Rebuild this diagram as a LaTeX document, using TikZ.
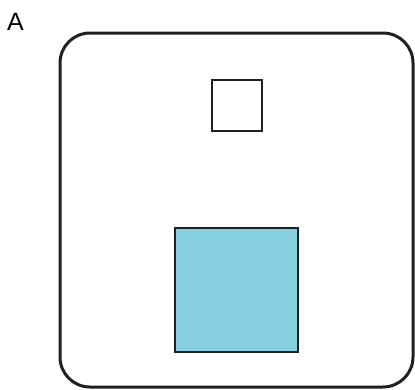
\documentclass[tikz,border=0pt]{standalone}
\usepackage{fontspec}
\setmainfont{Liberation Sans}
\definecolor{boxblue}{RGB}{135,207,227}
\definecolor{edge}{RGB}{35,31,32}
\begin{document}
\begin{tikzpicture}[x=1pt,y=-1pt,
  frame/.style={draw=edge,line width=3pt,rounded corners=30pt},
  sq/.style={draw=edge,line width=2.6pt}]
\useasboundingbox (0,0) rectangle (415,389);
\node[anchor=base west,inner sep=0pt,font=\fontsize{25}{25}\selectfont] (lab) at (7,30) {A};
\draw[frame] (60,33) rectangle (413,387);
\draw[sq] (212,80) rectangle (262,131);
\draw[sq,fill=boxblue] (175,228) rectangle (298,352);
\end{tikzpicture}
\end{document}
